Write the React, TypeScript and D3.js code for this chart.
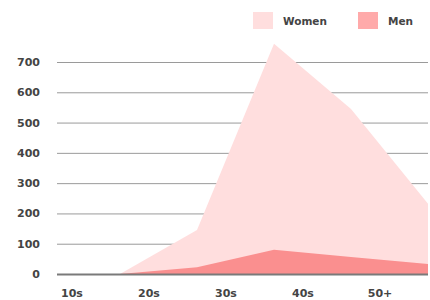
import React, { useEffect, useRef } from "react";
import * as d3 from "d3";

const categories = ["10s", "20s", "30s", "40s", "50+"];
const women = [0, 145, 760, 545, 232];
const men = [0, 22, 80, 56, 33];
const yTicks = [0, 100, 200, 300, 400, 500, 600, 700];

const width = 430;
const height = 300;

export default function App() {
  const ref = useRef<SVGSVGElement>(null);

  useEffect(() => {
    const svg = d3.select(ref.current);
    svg.selectAll("*").remove();

    const font = "'DejaVu Sans', Verdana, sans-serif";
    const y = d3.scaleLinear().domain([0, 700]).range([274, 62]);
    const xData = d3.scalePoint<string>().domain(categories).range([120, 428]);
    const xLabel = d3.scalePoint<string>().domain(categories).range([72, 380]);

    // grid
    svg.append("g")
      .selectAll("line")
      .data(yTicks.filter(d => d > 0))
      .enter()
      .append("line")
      .attr("x1", 57)
      .attr("x2", 428)
      .attr("y1", d => y(d) + 0.5)
      .attr("y2", d => y(d) + 0.5)
      .attr("stroke", "#9a9a9a")
      .attr("stroke-width", 1);

    const area = (vals: number[]) =>
      d3.area<number>()
        .x((d, i) => xData(categories[i])!)
        .y0(y(0))
        .y1(d => y(d))(vals);

    svg.append("path").attr("d", area(women)!).attr("fill", "#ffdede");
    svg.append("path").attr("d", area(men)!).attr("fill", "#fa8f8f");

    // baseline
    svg.append("line")
      .attr("x1", 57)
      .attr("x2", 428)
      .attr("y1", y(0) + 0.5)
      .attr("y2", y(0) + 0.5)
      .attr("stroke", "#7a7a7a")
      .attr("stroke-width", 2);

    // y labels
    svg.append("g")
      .selectAll("text")
      .data(yTicks)
      .enter()
      .append("text")
      .attr("x", 40)
      .attr("y", d => y(d) + 4)
      .attr("text-anchor", "end")
      .attr("font-family", font)
      .attr("font-weight", "bold")
      .attr("font-size", 11)
      .attr("fill", "#444")
      .text(d => d);

    // x labels
    svg.append("g")
      .selectAll("text")
      .data(categories)
      .enter()
      .append("text")
      .attr("x", d => xLabel(d)!)
      .attr("y", 297)
      .attr("text-anchor", "middle")
      .attr("font-family", font)
      .attr("font-weight", "bold")
      .attr("font-size", 11)
      .attr("fill", "#444")
      .text(d => d);

    // legend
    const legend = [
      { name: "Women", color: "#ffdede", x: 253 },
      { name: "Men", color: "#ffaaaa", x: 358 },
    ];
    const lg = svg.append("g").selectAll("g").data(legend).enter().append("g");
    lg.append("rect")
      .attr("x", d => d.x)
      .attr("y", 12)
      .attr("width", 20)
      .attr("height", 17)
      .attr("fill", d => d.color);
    lg.append("text")
      .attr("x", d => d.x + 30)
      .attr("y", 25)
      .attr("font-family", font)
      .attr("font-weight", "bold")
      .attr("font-size", 10.5)
      .attr("fill", "#444")
      .text(d => d.name);
  }, []);

  return (
    <div style={{ position: "absolute", left: 0, top: 0 }}>
      <svg ref={ref} width={width} height={height} style={{ display: "block" }} />
    </div>
  );
}
